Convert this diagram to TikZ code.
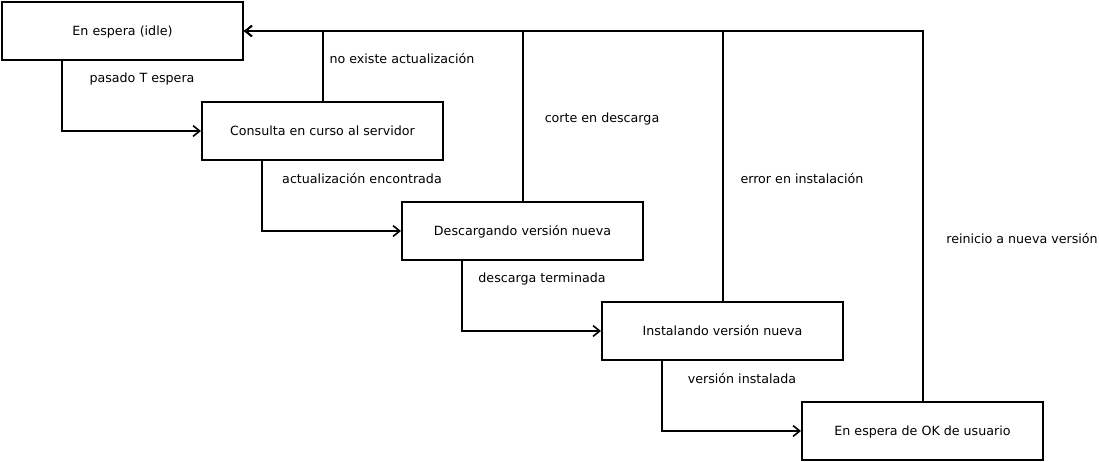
\documentclass[tikz,border=0pt]{standalone}
\usepackage{fontspec}
\setmainfont{DejaVu Sans}
\usetikzlibrary{arrows.meta}
\tikzset{
  estado/.style={draw, line width=1.5pt, minimum width=180.75pt, minimum height=43.5pt,
    inner sep=0pt, text depth=0.5pt, font=\fontsize{9.5}{11}\selectfont},
  etiqueta/.style={font=\fontsize{9.5}{11}\selectfont, inner sep=0pt, yshift=-1.5pt},
  flecha/.style={line width=1.5pt, -{Straight Barb[length=5pt,width=8pt,line width=1.2pt]}}
}
\begin{document}
\begin{tikzpicture}[x=0.75pt,y=-0.75pt]
    \useasboundingbox (0,0) rectangle (1099,461);

    % estados
    \node[estado] (idle) at (122.5,31) {En espera (idle)};
    \node[estado] (consulta) at (322.5,131) {Consulta en curso al servidor};
    \node[estado] (descarga) at (522.5,231) {Descargando versión nueva};
    \node[estado] (instala) at (722.5,331) {Instalando versión nueva};
    \node[estado] (okusr) at (922.5,431) {En espera de OK de usuario};

    % transiciones hacia adelante
    \draw[flecha] ([xshift=45.4pt]idle.south west) |- (consulta.west);
    \draw[flecha] ([xshift=45.4pt]consulta.south west) |- (descarga.west);
    \draw[flecha] ([xshift=45.4pt]descarga.south west) |- (instala.west);
    \draw[flecha] ([xshift=45.4pt]instala.south west) |- (okusr.west);

    % vuelta al estado inicial
    \draw[flecha] (consulta.north) |- (idle.east);
    \draw[flecha] (descarga.north) |- (idle.east);
    \draw[flecha] (instala.north) |- (idle.east);
    \draw[flecha] (okusr.north) |- (idle.east);

    % etiquetas
    \node[etiqueta] (l1) at (142,77) {pasado T espera};
    \node[etiqueta] (l2) at (402,57) {no existe actualización};
    \node[etiqueta] (l3) at (362,177) {actualización encontrada};
    \node[etiqueta] (l4) at (602,117) {corte en descarga};
    \node[etiqueta] (l5) at (542,277) {descarga terminada};
    \node[etiqueta] (l6) at (802,177) {error en instalación};
    \node[etiqueta] (l7) at (742,377) {versión instalada};
    \node[etiqueta] (l8) at (1022,237) {reinicio a nueva versión};

\end{tikzpicture}
\end{document}
